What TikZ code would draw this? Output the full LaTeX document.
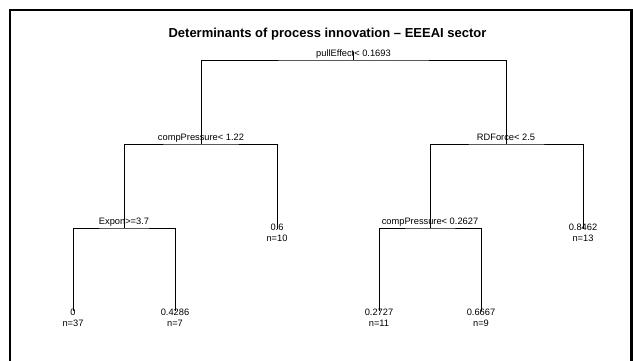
\documentclass[tikz,border=0pt]{standalone}
\usepackage{fontspec}
\setmainfont{Liberation Sans}
\begin{document}
\begin{tikzpicture}[x=1pt,y=-1pt,
  branch/.style={line width=0.8pt, black},
  frame/.style={line width=2.2pt, black},
  splitlabel/.style={anchor=base, inner sep=0pt, font=\fontsize{9.3}{11}\selectfont},
  leaflabel/.style={anchor=base, inner sep=0pt, font=\fontsize{9.3}{10.8}\selectfont, align=center},
  heading/.style={anchor=base, inner sep=0pt, font=\fontsize{13}{15}\selectfont\bfseries}]
\useasboundingbox (0,0) rectangle (633,360);
\fill[white] (0,0) rectangle (633,360);
% outer frame (bottom edge lies below the page)
\draw[frame] (10,380) -- (10,10) -- (631.5,10) -- (631.5,380);

\node[heading] (title) at (327.5,37.5) {Determinants of process innovation -- EEEAI sector};

% split points
\coordinate (root) at (353.5,60);
\coordinate (rootstub) at (353.5,52);
\coordinate (n2) at (201,144);
\coordinate (n3) at (506,144);
\coordinate (n4) at (124,228);
\coordinate (n6) at (430,228);
% leaf ends
\coordinate (l5) at (277,229);
\coordinate (l7) at (583,229);
\coordinate (l8) at (73,311);
\coordinate (l9) at (175,311);
\coordinate (l12) at (379,311);
\coordinate (l13) at (481,311);

% branches
\draw[branch] (rootstub) -- (root);
\draw[branch] (n2) |- (root) -| (n3);
\draw[branch] (n4) |- (n2) -| (l5);
\draw[branch] (n6) |- (n3) -| (l7);
\draw[branch] (l8) |- (n4) -| (l9);
\draw[branch] (l12) |- (n6) -| (l13);

% split conditions
\node[splitlabel] (s1) at (353.5,56.5) {pullEffect< 0.1693};
\node[splitlabel] (s2) at (201,140.5) {compPressure< 1.22};
\node[splitlabel] (s3) at (506,140.5) {RDForce< 2.5};
\node[splitlabel] (s4) at (124,224.5) {Expon>=3.7};
\node[splitlabel] (s6) at (430,224.5) {compPressure< 0.2627};

% leaf values (anchored on the baseline of the lower line)
\node[leaflabel] (t5) at (277,241.7) {0.6\\n=10};
\node[leaflabel] (t7) at (583,241.7) {0.8462\\n=13};
\node[leaflabel] (t8) at (73,326) {0\\n=37};
\node[leaflabel] (t9) at (175,326) {0.4286\\n=7};
\node[leaflabel] (t12) at (379,326) {0.2727\\n=11};
\node[leaflabel] (t13) at (481,326) {0.6667\\n=9};
\end{tikzpicture}
\end{document}
